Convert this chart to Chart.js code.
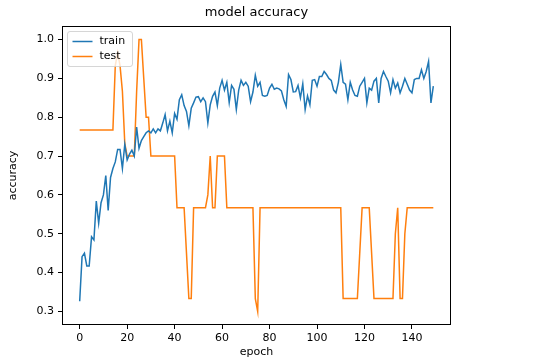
<!DOCTYPE html>
<html><head><meta charset="utf-8">
<script src="https://cdn.jsdelivr.net/npm/chart.js@4"></script>
<style>html,body{margin:0;padding:0;background:#fff;overflow:hidden}</style>
</head><body>
<canvas id="c" width="540" height="361"></canvas>
<script>
const epochTicks = [0, 20, 40, 60, 80, 100, 120, 140];
const accuracyTicks = [0.3, 0.4, 0.5, 0.6, 0.7, 0.8, 0.9, 1.0];
const seriesNames = ['train', 'test'];
const seriesColors = ['#1f77b4', '#ff7f0e'];

const train = [
  0.326, 0.441, 0.450, 0.417, 0.417, 0.492, 0.484, 0.584, 0.527, 0.580,
  0.600, 0.650, 0.560, 0.645, 0.668, 0.685, 0.717, 0.717, 0.668, 0.730,
  0.690, 0.705, 0.715, 0.700, 0.775, 0.720, 0.740, 0.750, 0.760, 0.765,
  0.760, 0.770, 0.760, 0.770, 0.765, 0.785, 0.807, 0.765, 0.790, 0.760,
  0.810, 0.795, 0.845, 0.858, 0.830, 0.815, 0.778, 0.823, 0.837, 0.852,
  0.853, 0.840, 0.850, 0.840, 0.785, 0.832, 0.854, 0.865, 0.830, 0.875,
  0.895, 0.870, 0.890, 0.838, 0.882, 0.872, 0.820, 0.870, 0.895, 0.882,
  0.890, 0.880, 0.840, 0.865, 0.908, 0.880, 0.890, 0.856, 0.854, 0.856,
  0.875, 0.885, 0.872, 0.875, 0.873, 0.868, 0.845, 0.828, 0.910, 0.897,
  0.865, 0.866, 0.882, 0.850, 0.886, 0.820, 0.855, 0.832, 0.895, 0.897,
  0.880, 0.905, 0.905, 0.918, 0.910, 0.900, 0.895, 0.870, 0.863, 0.890,
  0.936, 0.890, 0.885, 0.845, 0.890, 0.870, 0.856, 0.854, 0.880, 0.890,
  0.900, 0.837, 0.875, 0.870, 0.893, 0.900, 0.837, 0.900, 0.918, 0.905,
  0.893, 0.863, 0.897, 0.875, 0.888, 0.863, 0.880, 0.900, 0.885, 0.870,
  0.863, 0.897, 0.900, 0.900, 0.922, 0.900, 0.918, 0.944, 0.837, 0.880
];

const test = [
  0.767, 0.767, 0.767, 0.767, 0.767, 0.767, 0.767, 0.767, 0.767, 0.767,
  0.767, 0.767, 0.767, 0.767, 0.767, 0.933, 0.967, 0.933, 0.867, 0.733,
  0.700, 0.700, 0.700, 0.700, 0.867, 1.000, 1.000, 0.900, 0.800, 0.800,
  0.700, 0.700, 0.700, 0.700, 0.700, 0.700, 0.700, 0.700, 0.700, 0.700,
  0.700, 0.567, 0.567, 0.567, 0.567, 0.450, 0.333, 0.333, 0.567, 0.567,
  0.567, 0.567, 0.567, 0.567, 0.600, 0.700, 0.567, 0.567, 0.700, 0.700,
  0.700, 0.700, 0.567, 0.567, 0.567, 0.567, 0.567, 0.567, 0.567, 0.567,
  0.567, 0.567, 0.567, 0.567, 0.333, 0.300, 0.567, 0.567, 0.567, 0.567,
  0.567, 0.567, 0.567, 0.567, 0.567, 0.567, 0.567, 0.567, 0.567, 0.567,
  0.567, 0.567, 0.567, 0.567, 0.567, 0.567, 0.567, 0.567, 0.567, 0.567,
  0.567, 0.567, 0.567, 0.567, 0.567, 0.567, 0.567, 0.567, 0.567, 0.567,
  0.567, 0.333, 0.333, 0.333, 0.333, 0.333, 0.333, 0.333, 0.450, 0.567,
  0.567, 0.567, 0.567, 0.450, 0.333, 0.333, 0.333, 0.333, 0.333, 0.333,
  0.333, 0.333, 0.333, 0.500, 0.567, 0.333, 0.333, 0.500, 0.567, 0.567,
  0.567, 0.567, 0.567, 0.567, 0.567, 0.567, 0.567, 0.567, 0.567, 0.567
];

const FONT = 'DejaVu Sans';
const tickFont = { family: FONT, size: 11 };
const titleFont = { family: FONT, size: 13, weight: 'normal', lineHeight: 1.2 };
const toPoints = arr => arr.map((v, i) => ({ x: i, y: v }));

const framePlugin = {
  id: 'frame',
  afterDatasetsDraw(chart) {
    const { ctx, chartArea: a } = chart;
    ctx.save();
    ctx.strokeStyle = '#000';
    ctx.lineWidth = 1;
    ctx.strokeRect(Math.round(a.left) + 0.5, Math.round(a.top) + 0.5,
      Math.round(a.right - a.left) - 1, Math.round(a.bottom - a.top) - 1);
    ctx.restore();
  }
};

const legendPlugin = {
  id: 'boxLegend',
  afterDraw(chart) {
    const { ctx, chartArea: a } = chart;
    const x0 = a.left + 5.5, y0 = a.top + 5.5, w = 65, h = 35, r = 2.5;
    ctx.save();
    ctx.beginPath();
    ctx.moveTo(x0 + r, y0);
    ctx.arcTo(x0 + w, y0, x0 + w, y0 + h, r);
    ctx.arcTo(x0 + w, y0 + h, x0, y0 + h, r);
    ctx.arcTo(x0, y0 + h, x0, y0, r);
    ctx.arcTo(x0, y0, x0 + w, y0, r);
    ctx.closePath();
    ctx.fillStyle = 'rgba(255,255,255,0.8)';
    ctx.fill();
    ctx.strokeStyle = 'rgba(204,204,204,0.8)';
    ctx.lineWidth = 1;
    ctx.stroke();
    ctx.font = '11px "' + FONT + '"';
    ctx.textBaseline = 'middle';
    ctx.textAlign = 'left';
    chart.data.datasets.forEach((ds, i) => {
      const yy = y0 + 10 + i * 15;
      ctx.beginPath();
      ctx.strokeStyle = ds.borderColor;
      ctx.lineWidth = 1.5;
      ctx.moveTo(x0 + 5, yy);
      ctx.lineTo(x0 + 25, yy);
      ctx.stroke();
      ctx.fillStyle = '#000';
      ctx.fillText(ds.label, x0 + 32, yy);
    });
    ctx.restore();
  }
};

const tickGrid = { drawOnChartArea: false, drawTicks: true, tickLength: 4, tickColor: '#000', color: '#000' };

new Chart(document.getElementById('c'), {
  type: 'line',
  data: {
    datasets: [
      { label: seriesNames[0], data: toPoints(train), borderColor: seriesColors[0], backgroundColor: seriesColors[0] },
      { label: seriesNames[1], data: toPoints(test), borderColor: seriesColors[1], backgroundColor: seriesColors[1] }
    ]
  },
  options: {
    responsive: false,
    animation: false,
    devicePixelRatio: 1,
    layout: { padding: { left: 0, right: 89, top: 0, bottom: 0 } },
    elements: { point: { radius: 0, hoverRadius: 0 }, line: { tension: 0, borderWidth: 1.5, fill: false } },
    plugins: {
      legend: { display: false },
      tooltip: { enabled: false },
      title: { display: false }
    },
    scales: {
      x: {
        type: 'linear', min: -7.45, max: 156.45,
        afterBuildTicks: s => { s.ticks = epochTicks.map(v => ({ value: v })); },
        afterFit: s => { s.height = 36; },
        grid: tickGrid,
        border: { display: false },
        ticks: { color: '#000', font: tickFont, padding: 3, maxRotation: 0, autoSkip: false },
        title: { display: true, text: 'epoch', color: '#000', font: tickFont, padding: { top: 0, bottom: 2 } }
      },
      top: {
        type: 'linear', position: 'top', min: -7.45, max: 156.45,
        afterFit: s => { s.height = 26; },
        grid: { display: false, drawTicks: false },
        border: { display: false },
        ticks: { display: false },
        title: { display: true, text: 'model accuracy', color: '#000', font: titleFont, padding: { top: 5, bottom: 0 } }
      },
      y: {
        type: 'linear', min: 0.265, max: 1.035,
        afterBuildTicks: s => { s.ticks = accuracyTicks.map(v => ({ value: v })); },
        afterFit: s => { s.width = 62; },
        grid: tickGrid,
        border: { display: false },
        ticks: { color: '#000', font: tickFont, padding: 4, callback: v => Number(v).toFixed(1) },
        title: { display: true, text: 'accuracy', color: '#000', font: tickFont, padding: { top: 7, bottom: 0 } }
      }
    }
  },
  plugins: [framePlugin, legendPlugin]
});
</script>
</body></html>
